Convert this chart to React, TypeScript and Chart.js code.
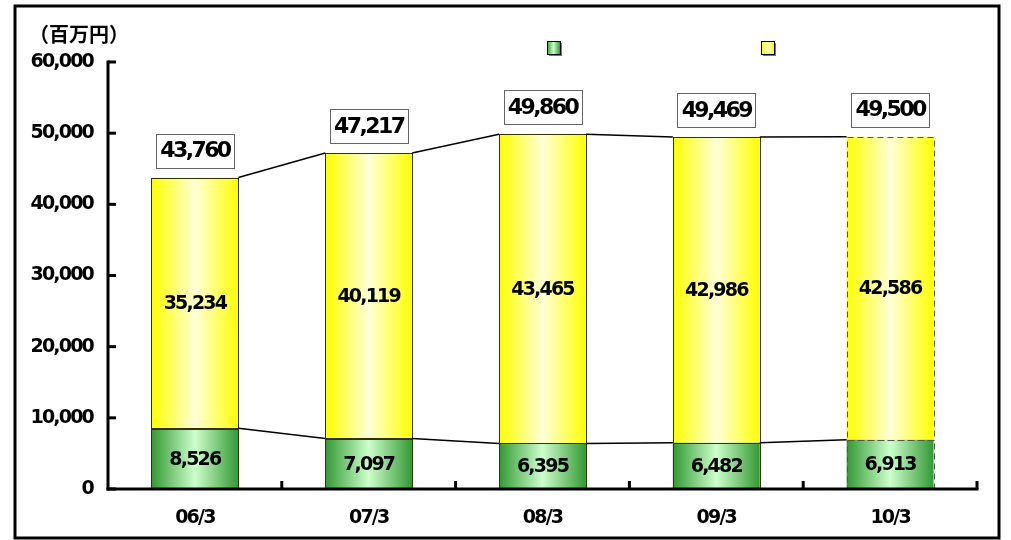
import React, { useEffect, useRef } from "react";
import { Chart, registerables } from "chart.js";

Chart.register(...registerables);

const categories = ["06/3", "07/3", "08/3", "09/3", "10/3"];
const lowerValues = [8526, 7097, 6395, 6482, 6913];
const upperValues = [35234, 40119, 43465, 42986, 42586];
const totalLabels = ["43,760", "47,217", "49,860", "49,469", "49,500"];
const yTitle = "（百万円）";
const projectedIndex = 4;

const FONT = "'DejaVu Sans', 'Noto Sans', sans-serif";
const BAR_PCT = 0.5;
const SPACING = "-1.8px";

function gradientFor(c: any, edge: string, center: string) {
  const chart = c.chart;
  const area = chart.chartArea;
  const xs = chart.scales && chart.scales.x;
  if (!area || !xs || c.dataIndex === undefined) return edge;
  const cx = xs.getPixelForValue(c.dataIndex);
  const half = ((area.right - area.left) / categories.length) * BAR_PCT / 2;
  const g = chart.ctx.createLinearGradient(cx - half, 0, cx + half, 0);
  g.addColorStop(0, edge);
  g.addColorStop(0.5, center);
  g.addColorStop(1, edge);
  return g;
}

const decorPlugin = {
  id: "decor",
  beforeDraw(chart: any) {
    const ctx = chart.ctx;
    ctx.save();
    ctx.fillStyle = "#ffffff";
    ctx.fillRect(0, 0, chart.width, chart.height);
    ctx.restore();
    (ctx as any).letterSpacing = SPACING;
  },
  afterDatasetsDraw(chart: any) {
    const ctx = chart.ctx;
    const area = chart.chartArea;
    const ys = chart.scales.y;
    const lower = chart.getDatasetMeta(0).data;
    const upper = chart.getDatasetMeta(1).data;

    ctx.save();
    // bar borders
    const drawBorder = (el: any, i: number) => {
      const p = el.getProps(["x", "y", "base", "width"], true);
      const l = p.x - p.width / 2;
      const t = Math.min(p.y, p.base);
      const h = Math.abs(p.base - p.y);
      if (i === projectedIndex) {
        ctx.setLineDash([6, 4]);
        ctx.strokeStyle = "#555555";
      } else {
        ctx.setLineDash([]);
        ctx.strokeStyle = "#333300";
      }
      ctx.lineWidth = 1;
      ctx.strokeRect(Math.round(l) + 0.5, Math.round(t) + 0.5, Math.round(p.width), Math.round(h));
    };
    lower.forEach(drawBorder);
    upper.forEach(drawBorder);
    ctx.setLineDash([]);

    // series lines
    ctx.strokeStyle = "#000000";
    ctx.lineWidth = 1.5;
    [lower, upper].forEach((els: any[]) => {
      for (let i = 0; i < els.length - 1; i++) {
        const a = els[i].getProps(["x", "y", "width"], true);
        const b = els[i + 1].getProps(["x", "y", "width"], true);
        ctx.beginPath();
        ctx.moveTo(a.x + a.width / 2, a.y);
        ctx.lineTo(b.x - b.width / 2, b.y);
        ctx.stroke();
      }
    });

    // axes
    ctx.strokeStyle = "#000000";
    ctx.lineWidth = 3;
    ctx.lineCap = "butt";
    ctx.beginPath();
    ctx.moveTo(area.left, ys.getPixelForValue(60000) - 1.5);
    ctx.lineTo(area.left, area.bottom + 1.5);
    ctx.stroke();
    ctx.beginPath();
    ctx.moveTo(area.left - 1.5, area.bottom);
    ctx.lineTo(area.right + 1.5, area.bottom);
    ctx.stroke();
    ys.ticks.forEach((t: any) => {
      const y = ys.getPixelForValue(t.value);
      ctx.beginPath();
      ctx.moveTo(area.left, y);
      ctx.lineTo(area.left + 8, y);
      ctx.stroke();
    });
    const catW = (area.right - area.left) / categories.length;
    for (let i = 1; i <= categories.length; i++) {
      const x = area.left + catW * i;
      ctx.beginPath();
      ctx.moveTo(x, area.bottom);
      ctx.lineTo(x, area.bottom - 8);
      ctx.stroke();
    }

    // value labels inside bars
    (ctx as any).letterSpacing = SPACING;
    ctx.fillStyle = "#000000";
    ctx.textAlign = "center";
    ctx.textBaseline = "middle";
    ctx.font = `bold 19px ${FONT}`;
    [lower, upper].forEach((els: any[], di: number) => {
      const vals = di === 0 ? lowerValues : upperValues;
      els.forEach((el: any, i: number) => {
        const p = el.getProps(["x", "y", "base"], true);
        ctx.fillText(vals[i].toLocaleString("en-US"), p.x, (p.y + p.base) / 2 + 1);
      });
    });

    // total boxes
    ctx.font = `bold 22px ${FONT}`;
    (ctx as any).letterSpacing = "-2.6px";
    upper.forEach((el: any, i: number) => {
      const p = el.getProps(["x", "y"], true);
      const w = 78;
      const h = 34;
      const bottom = p.y - 10;
      ctx.fillStyle = "#ffffff";
      ctx.fillRect(p.x - w / 2, bottom - h, w, h);
      ctx.strokeStyle = "#666666";
      ctx.lineWidth = 1;
      ctx.strokeRect(Math.round(p.x - w / 2) + 0.5, Math.round(bottom - h) + 0.5, w, h);
      ctx.fillStyle = "#000000";
      ctx.fillText(totalLabels[i], p.x, bottom - h / 2 + 1);
    });

    // legend squares (no text)
    const legend = [
      { x: 547, edge: "#339933", center: "#ccffcc" },
      { x: 761, edge: "#ffff00", center: "#ffffcc" },
    ];
    legend.forEach((lg) => {
      const s = 13;
      const y = 41;
      ctx.fillStyle = "#777777";
      ctx.fillRect(lg.x + 2, y + 2, s, s);
      const g = ctx.createLinearGradient(lg.x, 0, lg.x + s, 0);
      g.addColorStop(0, lg.edge);
      g.addColorStop(0.5, lg.center);
      g.addColorStop(1, lg.edge);
      ctx.fillStyle = g;
      ctx.fillRect(lg.x, y, s, s);
      ctx.strokeStyle = "#000000";
      ctx.lineWidth = 1;
      ctx.strokeRect(lg.x + 0.5, y + 0.5, s, s);
    });

    // y title
    (ctx as any).letterSpacing = "0px";
    ctx.font = `bold 20px 'Noto Sans CJK JP', sans-serif`;
    ctx.textAlign = "left";
    ctx.textBaseline = "middle";
    ctx.fillStyle = "#000000";
    ctx.fillText(yTitle, 29, 34);

    // frame
    ctx.strokeStyle = "#000000";
    ctx.lineWidth = 3;
    ctx.strokeRect(15, 6, 984, 532);
    ctx.restore();
    (ctx as any).letterSpacing = SPACING;
  },
};

export default function App() {
  const ref = useRef<HTMLCanvasElement | null>(null);
  useEffect(() => {
    if (!ref.current) return;
    const chart = new Chart(ref.current, {
      type: "bar",
      data: {
        labels: categories,
        datasets: [
          {
            label: "",
            data: lowerValues,
            backgroundColor: (c: any) => gradientFor(c, "#339933", "#ccffcc"),
            borderWidth: 0,
          },
          {
            label: "",
            data: upperValues,
            backgroundColor: (c: any) => gradientFor(c, "#ffff00", "#ffffd8"),
            borderWidth: 0,
          },
        ],
      },
      options: {
        responsive: false,
        devicePixelRatio: 1,
        animation: false,
        layout: { padding: { top: 62, right: 34, left: 0, bottom: 0 } },
        datasets: { bar: { categoryPercentage: 1, barPercentage: BAR_PCT } },
        plugins: {
          legend: { display: false },
          tooltip: { enabled: false },
        },
        scales: {
          x: {
            stacked: true,
            grid: { display: false, drawTicks: false },
            border: { display: false },
            ticks: {
              color: "#000000",
              font: { family: FONT, size: 19, weight: "bold" },
              padding: 18,
              maxRotation: 0,
            },
            afterFit: (s: any) => {
              s.height = 51;
            },
          },
          y: {
            stacked: true,
            min: 0,
            max: 60000,
            grid: { display: false, drawTicks: false },
            border: { display: false },
            ticks: {
              stepSize: 10000,
              color: "#000000",
              font: { family: FONT, size: 19, weight: "bold" },
              padding: 15,
              callback: (v: any) => Number(v).toLocaleString("en-US"),
            },
            afterFit: (s: any) => {
              s.width = 108;
            },
          },
        },
      },
      plugins: [decorPlugin],
    });
    return () => chart.destroy();
  }, []);
  return (
    <div style={{ position: "fixed", left: 0, top: 0, width: 1011, height: 540, background: "#fff" }}>
      <canvas ref={ref} width={1011} height={540} />
    </div>
  );
}
